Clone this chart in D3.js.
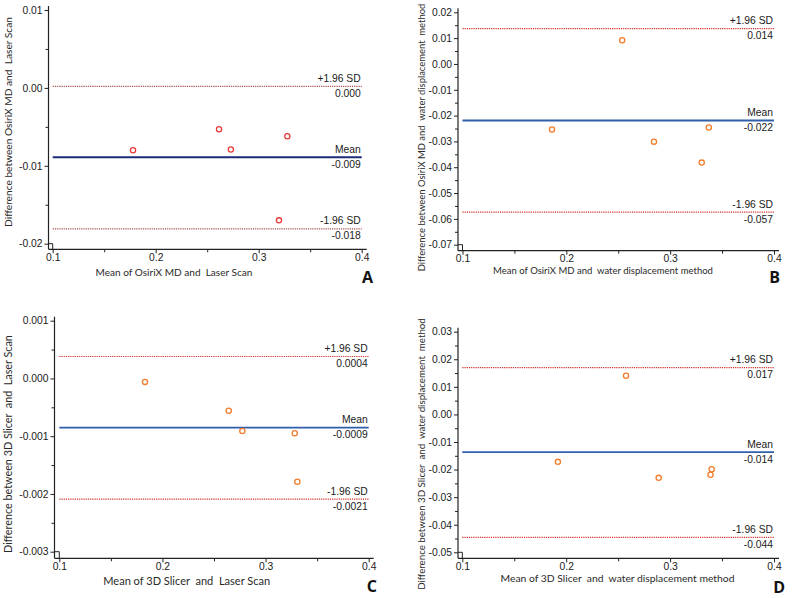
<!DOCTYPE html>
<html><head><meta charset="utf-8">
<script src="https://cdn.jsdelivr.net/npm/d3@7"></script>
<style>
body{margin:0;background:#fff;}
svg text{white-space:pre;}
</style></head>
<body>
<svg id="chart" width="793" height="598"></svg>
<script>
// ---------- DATA ----------
const xTickValues = [0.1, 0.2, 0.3, 0.4];
const xTickLabels = ["0.1", "0.2", "0.3", "0.4"];
const xMinorTicks = [0.15, 0.25, 0.35];
const lineNames = ["+1.96 SD", "Mean", "-1.96 SD"];

// Panel A: OsiriX MD vs Laser Scan
const aMeans = [0.178, 0.2615, 0.273, 0.3197, 0.3278];
const aDiffs = [-0.0080, -0.0053, -0.0079, -0.0170, -0.0062];
const aLines = [0.0002, -0.0089, -0.0181];
const aLineLabels = ["0.000", "-0.009", "-0.018"];
const aYTicks = [0.01, 0.0, -0.01, -0.02];
const aYTickLabels = ["0.01", "0.00", "-0.01", "-0.02"];

// Panel B: OsiriX MD vs water displacement method
const bMeans = [0.1862, 0.2538, 0.2844, 0.3304, 0.3372];
const bDiffs = [-0.0254, 0.0092, -0.0301, -0.0382, -0.0246];
const bLines = [0.0137, -0.0219, -0.0574];
const bLineLabels = ["0.014", "-0.022", "-0.057"];
const bYTicks = [0.02, 0.01, 0.0, -0.01, -0.02, -0.03, -0.04, -0.05, -0.06, -0.07];
const bYTickLabels = ["0.02", "0.01", "0.00", "-0.01", "-0.02", "-0.03", "-0.04", "-0.05", "-0.06", "-0.07"];

// Panel C: 3D Slicer vs Laser Scan
const cMeans = [0.1831, 0.2643, 0.2775, 0.3283, 0.3308];
const cDiffs = [-0.00006, -0.00056, -0.00091, -0.00095, -0.00179];
const cLines = [0.00038, -0.00085, -0.00209];
const cLineLabels = ["0.0004", "-0.0009", "-0.0021"];
const cYTicks = [0.001, 0.0, -0.001, -0.002, -0.003];
const cYTickLabels = ["0.001", "0.000", "-0.001", "-0.002", "-0.003"];

// Panel D: 3D Slicer vs water displacement method
const dMeans = [0.192, 0.2576, 0.289, 0.3389, 0.340];
const dDiffs = [-0.0172, 0.0140, -0.0230, -0.0219, -0.0199];
const dLines = [0.0170, -0.0137, -0.0446];
const dLineLabels = ["0.017", "-0.014", "-0.044"];
const dYTicks = [0.03, 0.02, 0.01, 0.0, -0.01, -0.02, -0.03, -0.04, -0.05];
const dYTickLabels = ["0.03", "0.02", "0.01", "0.00", "-0.01", "-0.02", "-0.03", "-0.04", "-0.05"];

const xTitles = ["Mean of OsiriX MD and  Laser Scan", "Mean of OsiriX MD and  water displacement method",
                 "Mean of 3D Slicer  and  Laser Scan", "Mean of 3D Slicer  and  water displacement method"];
const yTitles = ["Difference between OsiriX MD and  Laser Scan", "Difference between OsiriX MD and  water displacement  method",
                 "Difference between 3D Slicer  and  Laser Scan", "Difference between 3D Slicer  and  water displacement  method"];
const panelLetters = ["A", "B", "C", "D"];

// ---------- LAYOUT ----------
const panels = [
  {means:aMeans, diffs:aDiffs, lines:aLines, lineLabels:aLineLabels, yTicks:aYTicks, yTickLabels:aYTickLabels,
   xr:[52.7,361.7], yr:[243.7,10], yAxisX:48.5, xAxisY:249.3, minorStep:0.005,
   xTitle:[174,276,157], yTitle:[8,122,210], letter:[373,283],
   ptColor:"#ea3b3b", meanColor:"#1c2a78", sdColor:"#a8514f"},
  {means:bMeans, diffs:bDiffs, lines:bLines, lineLabels:bLineLabels, yTicks:bYTicks, yTickLabels:bYTickLabels,
   xr:[462.5,774], yr:[244.7,12.3], yAxisX:458, xAxisY:250.7, minorStep:0.005,
   xTitle:[603,274,220], yTitle:[422,137.5,268], letter:[780,283],
   ptColor:"#f47c2c", meanColor:"#2f5fab", sdColor:"#d0302c"},
  {means:cMeans, diffs:cDiffs, lines:cLines, lineLabels:cLineLabels, yTicks:cYTicks, yTickLabels:cYTickLabels,
   xr:[59.3,368.7], yr:[551.7,320.7], yAxisX:54.5, xAxisY:558.3, minorStep:0.0005,
   xTitle:[186.7,585,167], yTitle:[8,444,218], letter:[377,592],
   ptColor:"#f47c2c", meanColor:"#2f5fab", sdColor:"#d0302c"},
  {means:dMeans, diffs:dDiffs, lines:dLines, lineLabels:dLineLabels, yTicks:dYTicks, yTickLabels:dYTickLabels,
   xr:[462.3,774], yr:[552.3,331.7], yAxisX:458, xAxisY:558.3, minorStep:0.005,
   xTitle:[617.5,582,234], yTitle:[422,454,272], letter:[785,593],
   ptColor:"#f47c2c", meanColor:"#2f5fab", sdColor:"#d0302c"}
];

const svg = d3.select("#chart");
const tickFont = "'Liberation Sans', Arial, sans-serif";
const titleFont = "Lato, 'Open Sans', sans-serif";
const tickSize = 10.3;

function fitText(sel, target, base) {
  const w = sel.node().getComputedTextLength();
  sel.attr("font-size", (base * target / w).toFixed(2));
}

panels.forEach((p, i) => {
  const g = svg.append("g");
  const yMin = d3.min(p.yTicks), yMax = d3.max(p.yTicks);
  const x = d3.scaleLinear().domain([0.1, 0.4]).range(p.xr);
  const y = d3.scaleLinear().domain([yMin, yMax]).range(p.yr);

  const nMinor = Math.round((yMax - yMin) / p.minorStep);
  const yMinor = d3.range(nMinor + 1).map(k => yMin + k * p.minorStep)
      .filter(v => !p.yTicks.some(t => Math.abs(t - v) < p.minorStep / 10));

  // y axis
  const yAx = g.append("g").attr("transform", `translate(${p.yAxisX},0)`)
    .call(d3.axisLeft(y).tickValues(p.yTicks).tickSize(4).tickSizeOuter(0)
      .tickFormat((d, k) => p.yTickLabels[k]));
  yAx.select(".domain").remove();
  yAx.append("g").call(d3.axisLeft(y).tickValues(yMinor).tickSize(3).tickFormat(""))
     .select(".domain").remove();
  yAx.selectAll("text").attr("font-family", tickFont).attr("font-size", tickSize).attr("fill", "#1a1a1a").attr("x", -6);
  yAx.selectAll("line").attr("stroke", "#222");
  g.append("line").attr("x1", p.yAxisX).attr("x2", p.yAxisX)
    .attr("y1", y(yMax) - 4).attr("y2", p.xAxisY).attr("stroke", "#222").attr("stroke-width", 1.2);

  // x axis
  const xAx = g.append("g").attr("transform", `translate(0,${p.xAxisY})`)
    .call(d3.axisBottom(x).tickValues(xTickValues).tickSize(4).tickSizeOuter(0)
      .tickFormat((d, k) => xTickLabels[k]));
  xAx.select(".domain").remove();
  xAx.append("g").call(d3.axisBottom(x).tickValues(xMinorTicks).tickSize(3).tickFormat(""))
     .select(".domain").remove();
  xAx.selectAll("text").attr("font-family", tickFont).attr("font-size", tickSize).attr("fill", "#1a1a1a").attr("y", 4);
  xAx.selectAll("line").attr("stroke", "#222");
  g.append("line").attr("x1", p.yAxisX).attr("x2", p.xr[1] + 5)
    .attr("y1", p.xAxisY).attr("y2", p.xAxisY).attr("stroke", "#222").attr("stroke-width", 1.2);

  // corner box
  g.append("path")
    .attr("d", `M${p.yAxisX},${y(yMin)}H${x(0.1)}V${p.xAxisY}`)
    .attr("fill", "none").attr("stroke", "#222").attr("stroke-width", 1);

  // reference lines
  p.lines.forEach((v, k) => {
    const isMean = k === 1;
    g.append("line").attr("x1", x(0.1)).attr("x2", x(0.4))
      .attr("y1", y(v)).attr("y2", y(v))
      .attr("stroke", isMean ? p.meanColor : p.sdColor)
      .attr("stroke-width", isMean ? 1.8 : 1.2)
      .attr("stroke-dasharray", isMean ? null : "1.2,1");
    g.append("text").attr("x", x(0.4) - 1).attr("y", y(v) - 4.5)
      .attr("text-anchor", "end").attr("font-family", tickFont).attr("font-size", tickSize).attr("fill", "#1a1a1a")
      .text(lineNames[k]);
    g.append("text").attr("x", x(0.4) - 1).attr("y", y(v) + 10.5)
      .attr("text-anchor", "end").attr("font-family", tickFont).attr("font-size", tickSize).attr("fill", "#1a1a1a")
      .text(p.lineLabels[k]);
  });

  // points
  g.selectAll("circle.pt").data(p.means.map((m, k) => [m, p.diffs[k]])).enter()
    .append("circle").attr("class", "pt")
    .attr("cx", d => x(d[0])).attr("cy", d => y(d[1])).attr("r", 2.6)
    .attr("fill", "none").attr("stroke", p.ptColor).attr("stroke-width", 1.3);

  // titles
  const xt = g.append("text").attr("x", p.xTitle[0]).attr("y", p.xTitle[1]).attr("text-anchor", "middle")
    .attr("font-family", titleFont).attr("font-size", 10.5).attr("fill", "#2a2a2a").text(xTitles[i]);
  fitText(xt, p.xTitle[2], 10.5);
  const yt = g.append("text").attr("transform", `translate(${p.yTitle[0]},${p.yTitle[1]}) rotate(-90)`)
    .attr("text-anchor", "middle").attr("dy", "0.35em")
    .attr("font-family", titleFont).attr("font-size", 10.5).attr("fill", "#2a2a2a").text(yTitles[i]);
  fitText(yt, p.yTitle[2], 10.5);
  g.append("text").attr("x", p.letter[0]).attr("y", p.letter[1]).attr("text-anchor", "end")
    .attr("font-family", "'Open Sans', Lato, sans-serif").attr("font-weight", "bold").attr("font-size", 16)
    .attr("fill", "#111").text(panelLetters[i]);
});
</script>
</body></html>
